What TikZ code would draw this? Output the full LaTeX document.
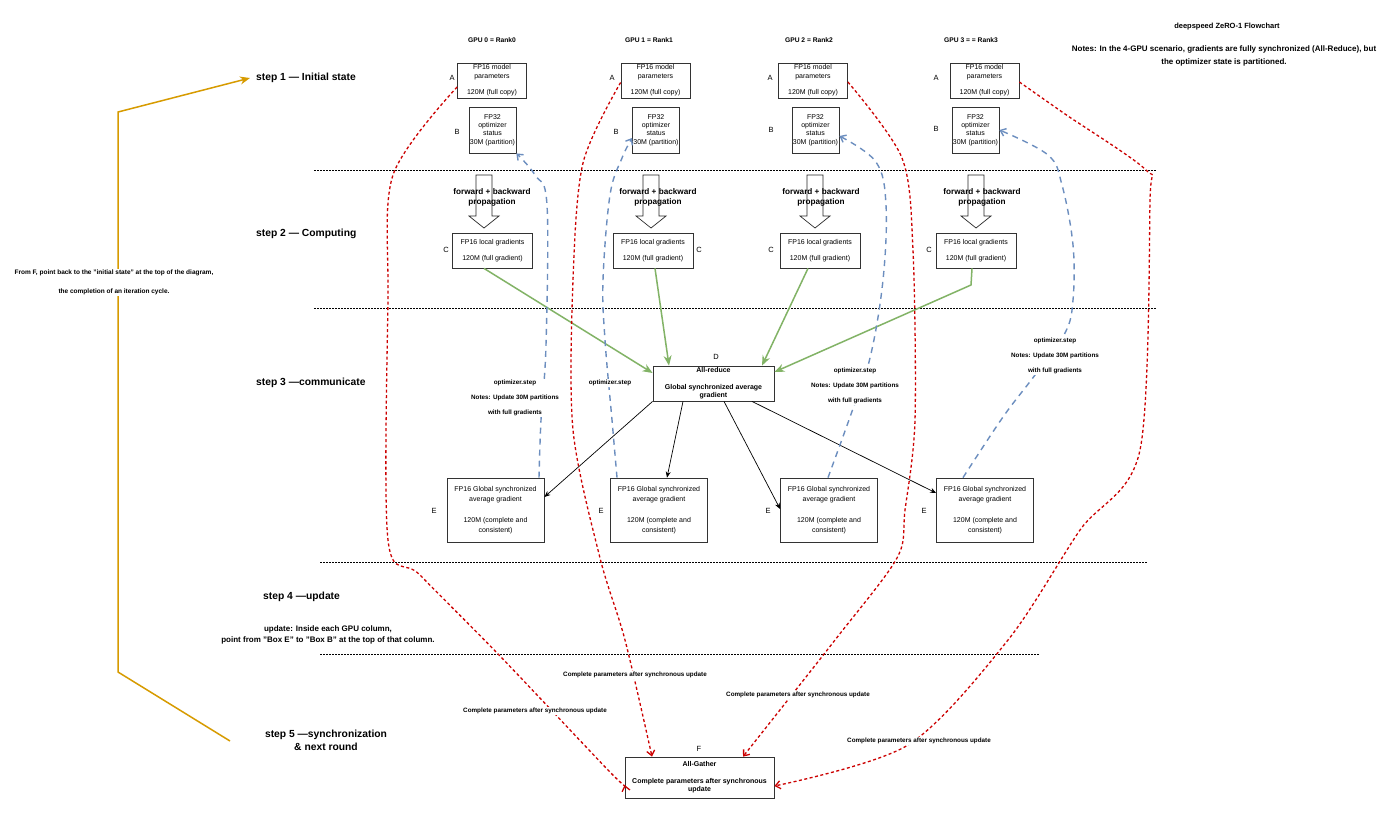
\documentclass[tikz,border=0pt]{standalone}
\usepackage{fontspec}
\setmainfont{Liberation Sans}
\usetikzlibrary{arrows.meta}
\definecolor{redc}{RGB}{204,0,0}
\definecolor{bluec}{RGB}{108,142,191}
\definecolor{greenc}{RGB}{130,179,102}
\definecolor{orangec}{RGB}{215,155,0}
\begin{document}
\begin{tikzpicture}[x=1pt,y=-1pt,
 box/.style={draw=black!80,line width=0.8pt,fill=white,inner sep=0pt,align=center,font=\fontsize{7}{8.3}\selectfont},
 abox/.style={box,minimum width=69pt,minimum height=35pt},
 bbox/.style={box,minimum width=47pt,minimum height=46pt},
 cbox/.style={box,minimum width=80pt,minimum height=35pt},
 dbox/.style={box,minimum width=121pt,minimum height=35pt},
 ebox/.style={box,minimum width=97pt,minimum height=64pt,font=\fontsize{7}{10.2}\selectfont},
 fbox/.style={box,minimum width=149pt,minimum height=41pt},
 letter/.style={inner sep=0pt,font=\fontsize{7.5}{8}\selectfont},
 gpulbl/.style={inner sep=0pt,font=\bfseries\fontsize{6.7}{8}\selectfont},
 steplbl/.style={inner sep=0pt,anchor=west,font=\bfseries\fontsize{10.3}{13}\selectfont},
 fwdlbl/.style={inner sep=0pt,align=center,font=\bfseries\fontsize{8.2}{10}\selectfont},
 fwdarrow/.style={draw=black!85,line width=0.7pt,fill=white},
 sepline/.style={line width=0.6pt,dash pattern=on 1.5pt off 1.5pt},
 optlbl/.style={fill=white,inner sep=1pt,align=center,font=\bfseries\fontsize{6.3}{15}\selectfont},
 redlbl/.style={fill=white,inner sep=1pt,font=\bfseries\fontsize{6.3}{8}\selectfont},
 notelbl/.style={inner sep=0pt,align=center,font=\bfseries\fontsize{8}{11}\selectfont},
 redline/.style={redc,line width=1.3pt,dash pattern=on 3pt off 2.5pt,-{Straight Barb[length=5pt,width=8pt]}},
 blueline/.style={bluec,line width=1.4pt,dash pattern=on 6pt off 5pt,-{Straight Barb[length=5pt,width=8pt]}},
 greenline/.style={greenc,line width=1.5pt,-{Stealth[length=10pt,width=8pt]}},
 blackline/.style={black,line width=0.7pt,-{Stealth[length=6pt,width=5pt]}},
 orangeline/.style={orangec,line width=1.5pt,-{Stealth[length=10pt,width=8pt]}},
]
\useasboundingbox[fill=white] (0,0) rectangle (1400,823);

% separators
\draw[sepline] (314,170) -- (1156,170);
\draw[sepline] (314,308) -- (1156,308);
\draw[sepline] (320,562) -- (1148,562);
\draw[sepline] (320,654) -- (1040,654);

% title and notes
\node[inner sep=0pt,font=\bfseries\fontsize{7.5}{9}\selectfont] (title) at (1227,27) {deepspeed ZeRO-1 Flowchart};
\node[notelbl,font=\bfseries\fontsize{8}{13}\selectfont] (notes) at (1224,56) {Notes: In the 4-GPU scenario, gradients are fully synchronized (All-Reduce), but\\the optimizer state is partitioned.};

% GPU labels
\node[gpulbl] (g0) at (492,40) {GPU 0 = Rank0};
\node[gpulbl] (g1) at (649,40) {GPU 1 = Rank1};
\node[gpulbl] (g2) at (809,40) {GPU 2 = Rank2};
\node[gpulbl] (g3) at (971,40) {GPU 3 = = Rank3};

% step labels
\node[steplbl] (s1) at (256,78) {step 1 — Initial state};
\node[steplbl] (s2) at (256,234) {step 2 — Computing};
\node[steplbl] (s3) at (256,383) {step 3 —communicate};
\node[steplbl] (s4) at (263,597) {step 4 —update};
\node[inner sep=0pt,align=center,font=\bfseries\fontsize{10.3}{13}\selectfont] (s5) at (326,740.5) {step 5 —synchronization\\\& next round};
\node[notelbl] (upd) at (328,634.5) {update: Inside each GPU column,\\point from "Box E" to "Box B" at the top of that column.};

% A boxes
\node[abox] (A0) at (492,80.5) {FP16 model\\parameters\\~\\120M (full copy)};
\node[abox] (A1) at (655.5,80.5) {FP16 model\\parameters\\~\\120M (full copy)};
\node[abox] (A2) at (813,80.5) {FP16 model\\parameters\\~\\120M (full copy)};
\node[abox] (A3) at (984.5,80.5) {FP16 model\\parameters\\~\\120M (full copy)};
\node[letter] (la0) at (452,78) {A};
\node[letter] (la1) at (612,78) {A};
\node[letter] (la2) at (770,78) {A};
\node[letter] (la3) at (936,78) {A};

% B boxes
\node[bbox] (B0) at (492.5,130) {FP32\\optimizer\\status\\30M (partition)};
\node[bbox] (B1) at (656,130) {FP32\\optimizer\\status\\30M (partition)};
\node[bbox] (B2) at (815.5,130) {FP32\\optimizer\\status\\30M (partition)};
\node[bbox] (B3) at (975.5,130) {FP32\\optimizer\\status\\30M (partition)};
\node[letter] (lb0) at (457,132) {B};
\node[letter] (lb1) at (616,132) {B};
\node[letter] (lb2) at (771,130) {B};
\node[letter] (lb3) at (936,129) {B};

% forward arrows
\foreach \x in {484,651,815,976}{
  \draw[fwdarrow] ({\x-8},175) -- ({\x+8},175) -- ({\x+8},216) -- ({\x+15},216) -- (\x,228) -- ({\x-15},216) -- ({\x-8},216) -- cycle;
}
\node[fwdlbl] (p0) at (492,197) {forward + backward\\propagation};
\node[fwdlbl] (p1) at (658,197) {forward + backward\\propagation};
\node[fwdlbl] (p2) at (821,197) {forward + backward\\propagation};
\node[fwdlbl] (p3) at (982,197) {forward + backward\\propagation};

% C boxes
\node[cbox] (C0) at (492.5,250.5) {FP16 local gradients\\~\\120M (full gradient)};
\node[cbox] (C1) at (653,250.5) {FP16 local gradients\\~\\120M (full gradient)};
\node[cbox] (C2) at (820,250.5) {FP16 local gradients\\~\\120M (full gradient)};
\node[cbox] (C3) at (976,250.5) {FP16 local gradients\\~\\120M (full gradient)};
\node[letter] (lc0) at (446,250) {C};
\node[letter] (lc1) at (699,250) {C};
\node[letter] (lc2) at (771,250) {C};
\node[letter] (lc3) at (929,250) {C};

% D box
\node[dbox,font=\bfseries\fontsize{7}{8.3}\selectfont] (D) at (713.5,383.5) {All-reduce\\~\\Global synchronized average\\gradient};
\node[letter] (ld) at (716,357) {D};

% E boxes
\node[ebox] (E0) at (495.5,510) {FP16 Global synchronized\\average gradient\\~\\120M (complete and\\consistent)};
\node[ebox] (E1) at (659,510) {FP16 Global synchronized\\average gradient\\~\\120M (complete and\\consistent)};
\node[ebox] (E2) at (829,510) {FP16 Global synchronized\\average gradient\\~\\120M (complete and\\consistent)};
\node[ebox] (E3) at (985,510) {FP16 Global synchronized\\average gradient\\~\\120M (complete and\\consistent)};
\node[letter] (le0) at (434,511) {E};
\node[letter] (le1) at (601,511) {E};
\node[letter] (le2) at (768,511) {E};
\node[letter] (le3) at (924,511) {E};

% F box
\node[fbox,font=\bfseries\fontsize{7}{8.3}\selectfont] (F) at (699.5,777.5) {All-Gather\\~\\Complete parameters after synchronous\\update};
\node[letter] (lf) at (699,749) {F};

% green connectors C -> D
\draw[greenline] ([xshift=-8.5pt]C0.south) -- ([yshift=10.5pt]D.west);
\draw[greenline] ([xshift=2pt]C1.south) -- ([xshift=-44.5pt]D.north);
\draw[greenline] ([xshift=-12pt]C2.south) -- ([xshift=48.5pt]D.north);
\draw[greenline] ([xshift=-4pt]C3.south) -- (971,285) -- ([yshift=11.5pt]D.east);

% black connectors D -> E
\draw[blackline] (D.south west) -- ([yshift=13pt]E0.east);
\draw[blackline] ([xshift=-30.5pt]D.south) -- ([xshift=8pt]E1.north);
\draw[blackline] ([xshift=10.5pt]D.south) -- ([yshift=1pt]E2.west);
\draw[blackline] ([xshift=38.5pt]D.south) -- ([yshift=17pt]E3.west);

% blue connectors E -> B
\draw[blueline] plot[smooth,tension=0.6] coordinates {([xshift=43.5pt]E0.north) (541,420) (546,345) (547,205) (535,175) (B0.south east)};
\draw[blueline] plot[smooth,tension=0.6] coordinates {([xshift=-42pt]E1.north) (612,420) (605,340) (603,280) (610,195) (622,158) ([yshift=-8pt]B1.west)};
\draw[blueline] plot[smooth,tension=0.6] coordinates {([xshift=-1pt]E2.north) (850,417) (870,358) (883,280) (886,205) (876,162) ([yshift=-6pt]B2.east)};
\draw[blueline] plot[smooth,tension=0.6] coordinates {([xshift=-22pt]E3.north) (1003,417) (1035,375) (1065,333) (1073,300) (1073,245) (1062,185) (1048,155) (B3.east)};

% red connectors A -> F
\draw[redline] plot[smooth,tension=0.5] coordinates {([yshift=-6.5pt]A0.west) (393,175) (388,300) (388,540) (420,575) (500,656) (608,770) ([yshift=-7.5pt]F.west)};
\draw[redline] plot[smooth,tension=0.5] coordinates {([yshift=-2pt]A1.west) (583,163) (573,280) (573,430) (600,558) (625,640) ([xshift=-47.5pt]F.north)};
\draw[redline] plot[smooth,tension=0.5] coordinates {([yshift=-1.5pt]A2.east) (902,158) (913,250) (915,420) (905,510) (897,558) (835,640) ([xshift=43.5pt]F.north)};
\draw[redline] plot[smooth,tension=0.5] coordinates {([yshift=-1.5pt]A3.east) (1065,114) (1146,170) (1150,200) (1140,450) (1080,530) (1008,640) (908,745) ([yshift=-8.5pt]F.east)};

% orange loop connector
\coordinate (o1) at (230,741);
\draw[orangeline] (o1) -- (118,672) -- (118,112) -- ([xshift=-6pt]s1.west);
\node[fill=white,inner sep=1pt,align=center,font=\bfseries\fontsize{6.5}{9.5}\selectfont] (loop) at (114,282.5) {From F, point back to the "initial state" at the top of the diagram,\\~\\the completion of an iteration cycle.};

% labels on blue connectors
\node[optlbl] (op0) at (515,398) {optimizer.step\\Notes: Update 30M partitions\\with full gradients};
\node[optlbl,font=\bfseries\fontsize{6.3}{8}\selectfont] (op1) at (610,383) {optimizer.step};
\node[optlbl] (op2) at (855,386) {optimizer.step\\Notes: Update 30M partitions\\with full gradients};
\node[optlbl] (op3) at (1055,356) {optimizer.step\\Notes: Update 30M partitions\\with full gradients};

% labels on red connectors
\node[redlbl] (r0) at (535,711) {Complete parameters after synchronous update};
\node[redlbl] (r1) at (635,675) {Complete parameters after synchronous update};
\node[redlbl] (r2) at (798,695) {Complete parameters after synchronous update};
\node[redlbl] (r3) at (919,741) {Complete parameters after synchronous update};
\end{tikzpicture}
\end{document}
